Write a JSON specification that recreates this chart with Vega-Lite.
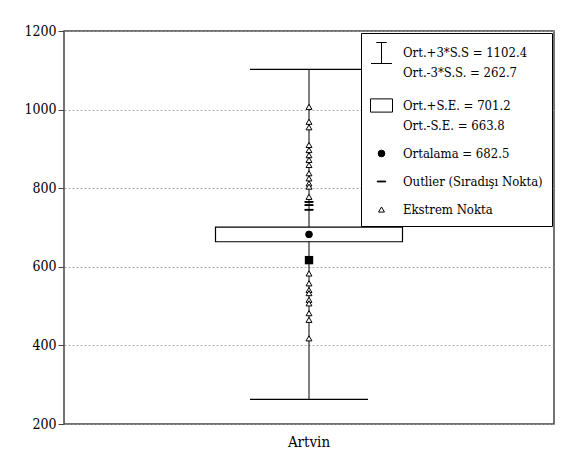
{
  "$schema": "https://vega.github.io/schema/vega-lite/v6.json",
  "width": 490,
  "height": 393,
  "autosize": {"type": "none"},
  "padding": {"left": 64, "top": 31, "right": 17, "bottom": 41},
  "background": "white",
  "config": {
    "view": {"stroke": "#444", "strokeWidth": 1.5},
    "axis": {"labelColor": "black", "labelFontSize": 15, "title": null},
    "style": {"guide-label": {"lineHeight": 20}}
  },
  "data": {
    "values": [
      {"cat": "Artvin", "kind": "whisker", "lo": 262.7, "hi": 1102.4},
      {"cat": "Artvin", "kind": "cap", "value": 262.7},
      {"cat": "Artvin", "kind": "cap", "value": 1102.4},
      {"cat": "Artvin", "kind": "box", "lo": 663.8, "hi": 701.2},
      {"cat": "Artvin", "kind": "square", "value": 617},
      {"cat": "Artvin", "kind": "pt", "series": "Ortalama = 682.5", "value": 682.5},
      {"cat": "Artvin", "kind": "pt", "series": "Outlier (Sıradışı Nokta)", "value": 765},
      {"cat": "Artvin", "kind": "pt", "series": "Outlier (Sıradışı Nokta)", "value": 757},
      {"cat": "Artvin", "kind": "pt", "series": "Outlier (Sıradışı Nokta)", "value": 745},
      {"cat": "Artvin", "kind": "pt", "series": "Ekstrem Nokta", "value": 1007},
      {"cat": "Artvin", "kind": "pt", "series": "Ekstrem Nokta", "value": 969},
      {"cat": "Artvin", "kind": "pt", "series": "Ekstrem Nokta", "value": 955},
      {"cat": "Artvin", "kind": "pt", "series": "Ekstrem Nokta", "value": 910},
      {"cat": "Artvin", "kind": "pt", "series": "Ekstrem Nokta", "value": 897},
      {"cat": "Artvin", "kind": "pt", "series": "Ekstrem Nokta", "value": 884},
      {"cat": "Artvin", "kind": "pt", "series": "Ekstrem Nokta", "value": 872},
      {"cat": "Artvin", "kind": "pt", "series": "Ekstrem Nokta", "value": 859},
      {"cat": "Artvin", "kind": "pt", "series": "Ekstrem Nokta", "value": 838},
      {"cat": "Artvin", "kind": "pt", "series": "Ekstrem Nokta", "value": 825},
      {"cat": "Artvin", "kind": "pt", "series": "Ekstrem Nokta", "value": 812},
      {"cat": "Artvin", "kind": "pt", "series": "Ekstrem Nokta", "value": 804},
      {"cat": "Artvin", "kind": "pt", "series": "Ekstrem Nokta", "value": 778},
      {"cat": "Artvin", "kind": "pt", "series": "Ekstrem Nokta", "value": 583},
      {"cat": "Artvin", "kind": "pt", "series": "Ekstrem Nokta", "value": 558},
      {"cat": "Artvin", "kind": "pt", "series": "Ekstrem Nokta", "value": 541},
      {"cat": "Artvin", "kind": "pt", "series": "Ekstrem Nokta", "value": 533},
      {"cat": "Artvin", "kind": "pt", "series": "Ekstrem Nokta", "value": 516},
      {"cat": "Artvin", "kind": "pt", "series": "Ekstrem Nokta", "value": 507},
      {"cat": "Artvin", "kind": "pt", "series": "Ekstrem Nokta", "value": 482},
      {"cat": "Artvin", "kind": "pt", "series": "Ekstrem Nokta", "value": 465},
      {"cat": "Artvin", "kind": "pt", "series": "Ekstrem Nokta", "value": 418}
    ]
  },
  "encoding": {
    "x": {
      "field": "cat", "type": "nominal",
      "scale": {"type": "band", "paddingInner": 0, "paddingOuter": 0},
      "axis": {"labelAngle": 0, "ticks": false, "domain": false, "labelPadding": 10, "labelFontSize": 15, "labelFont": "DejaVu Serif Condensed"}
    }
  },
  "layer": [
    {
      "transform": [{"filter": "datum.kind === 'whisker'"}],
      "mark": {"type": "rule", "color": "black", "strokeWidth": 1},
      "encoding": {
        "y": {"field": "lo", "type": "quantitative", "scale": {"domain": [200, 1200], "nice": false},
          "axis": {"values": [200, 400, 600, 800, 1000, 1200], "format": "d", "labelFont": "DejaVu Serif Condensed", "labelFontSize": 14, "grid": true, "gridDash": [2, 2], "gridColor": "#999", "gridWidth": 0.8, "domain": false, "tickColor": "#444", "tickSize": 6, "labelPadding": 2}},
        "y2": {"field": "hi"}
      }
    },
    {
      "transform": [{"filter": "datum.kind === 'cap'"}],
      "mark": {"type": "tick", "color": "black", "size": 118, "thickness": 1.2, "opacity": 1},
      "encoding": {"y": {"field": "value", "type": "quantitative"}}
    },
    {
      "transform": [{"filter": "datum.kind === 'box'"}],
      "mark": {"type": "bar", "fill": "white", "stroke": "black", "strokeWidth": 1.2, "size": 187},
      "encoding": {"y": {"field": "lo", "type": "quantitative"}, "y2": {"field": "hi"}}
    },
    {
      "transform": [{"filter": "datum.kind === 'square'"}],
      "mark": {"type": "point", "shape": "square", "filled": true, "color": "black", "size": 70, "opacity": 1},
      "encoding": {"y": {"field": "value", "type": "quantitative"}}
    },
    {
      "transform": [{"filter": "datum.kind === 'pt'"}],
      "mark": {"type": "point", "filled": true, "stroke": "black", "strokeWidth": 1, "opacity": 1},
      "encoding": {
        "y": {"field": "value", "type": "quantitative"},
        "shape": {
          "field": "series", "type": "nominal",
          "scale": {
            "domain": ["Ort.+3*S.S = 1102.4|Ort.-3*S.S. = 262.7", "Ort.+S.E. = 701.2|Ort.-S.E. = 663.8", "Ortalama = 682.5", "Outlier (Sıradışı Nokta)", "Ekstrem Nokta"],
            "range": ["M-0.5,-1H0.5M0,-1V1M-1,1H1", "M-1,-0.6H1V0.6H-1Z", "circle", "M-1,-0.1H1V0.1H-1Z", "triangle-up"]
          },
          "legend": {
            "title": null,
            "orient": "top-right",
            "offset": 2,
            "strokeColor": "black",
            "fillColor": "white",
            "padding": 9,
            "labelFont": "DejaVu Serif Condensed",
            "labelFontSize": 13,
            "labelColor": "black",
            "labelLimit": 300,
            "labelOffset": 10,
            "rowPadding": 14,
            "symbolStrokeColor": "black",
            "symbolStrokeWidth": 1,
            "symbolOpacity": 1,
            "labelExpr": "split(datum.label, '|')"
          }
        },
        "fill": {
          "field": "series", "type": "nominal",
          "scale": {
            "domain": ["Ort.+3*S.S = 1102.4|Ort.-3*S.S. = 262.7", "Ort.+S.E. = 701.2|Ort.-S.E. = 663.8", "Ortalama = 682.5", "Outlier (Sıradışı Nokta)", "Ekstrem Nokta"],
            "range": ["transparent", "white", "black", "black", "white"]
          }
        },
        "size": {
          "field": "series", "type": "nominal",
          "scale": {
            "type": "ordinal",
            "domain": ["Ort.+3*S.S = 1102.4|Ort.-3*S.S. = 262.7", "Ort.+S.E. = 701.2|Ort.-S.E. = 663.8", "Ortalama = 682.5", "Outlier (Sıradışı Nokta)", "Ekstrem Nokta"],
            "range": [440, 484, 45, 70, 35]
          }
        }
      }
    }
  ]
}
